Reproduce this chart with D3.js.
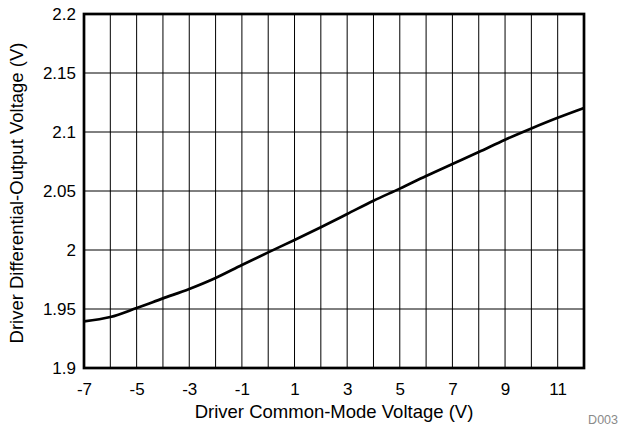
<!DOCTYPE html>
<html>
<head>
<meta charset="utf-8">
<script src="https://cdn.jsdelivr.net/npm/d3@7"></script>
<style>
  body { margin: 0; background: #fff; }
  text { font-family: "Liberation Sans", Arial, sans-serif; fill: #000; }
</style>
</head>
<body>
<div id="chart"></div>
<script>
// values
var vcm = [-7, -6, -5, -4, -3, -2, -1, 0, 1, 2, 3, 4, 5, 6, 7, 8, 9, 10, 11, 12];
var vod = [1.9395, 1.9432, 1.9508, 1.959, 1.967, 1.9763, 1.9873, 1.998, 2.0085, 2.0193,
           2.0305, 2.0418, 2.052, 2.0627, 2.0729, 2.083, 2.0935, 2.103, 2.112, 2.1203];
var xTicks = [-7, -5, -3, -1, 1, 3, 5, 7, 9, 11];
var yTicks = [1.9, 1.95, 2, 2.05, 2.1, 2.15, 2.2];

var W = 619, H = 430;
var m = {left: 84, right: 35, top: 14, bottom: 62};

var svg = d3.select('#chart')
  .append('svg')
  .attr('width', W)
  .attr('height', H);

var x = d3.scaleLinear().domain([-7, 12]).range([m.left, W - m.right]);
var y = d3.scaleLinear().domain([1.9, 2.2]).range([H - m.bottom, m.top]);

// vertical grid every 1 V
svg.append('g')
  .selectAll('line')
  .data(d3.range(-6, 12))
  .enter()
  .append('line')
  .attr('x1', function(d){ return x(d); })
  .attr('x2', function(d){ return x(d); })
  .attr('y1', y(1.9))
  .attr('y2', y(2.2))
  .attr('stroke', '#000')
  .attr('stroke-width', 1);

// horizontal grid
svg.append('g')
  .selectAll('line')
  .data(yTicks.slice(1, -1))
  .enter()
  .append('line')
  .attr('x1', x(-7))
  .attr('x2', x(12))
  .attr('y1', function(d){ return y(d); })
  .attr('y2', function(d){ return y(d); })
  .attr('stroke', '#000')
  .attr('stroke-width', 1);

// axes (labels only), plain hyphen for negatives
var xAxis = svg.append('g')
  .attr('transform', 'translate(0,' + (H - m.bottom) + ')')
  .call(d3.axisBottom(x).tickValues(xTicks).tickSize(0).tickPadding(15).tickFormat(function(d){ return String(d); }));
var yAxis = svg.append('g')
  .attr('transform', 'translate(' + m.left + ',0)')
  .call(d3.axisLeft(y).tickValues(yTicks).tickSize(0).tickPadding(8).tickFormat(function(d){ return String(d); }));
[xAxis, yAxis].forEach(function(a){
  a.select('.domain').remove();
  a.selectAll('text').attr('font-size', '17px').attr('font-family', '"Liberation Sans", Arial, sans-serif').attr('fill', '#000');
});

// curve
var pts = vcm.map(function(v, i){ return [v, vod[i]]; });
svg.append('path')
  .datum(pts)
  .attr('fill', 'none')
  .attr('stroke', '#000')
  .attr('stroke-width', 2.7)
  .attr('stroke-linejoin', 'round')
  .attr('d', d3.line()
    .x(function(d){ return x(d[0]); })
    .y(function(d){ return y(d[1]); })
    .curve(d3.curveMonotoneX));

// frame
svg.append('rect')
  .attr('x', x(-7))
  .attr('y', y(2.2))
  .attr('width', x(12) - x(-7))
  .attr('height', y(1.9) - y(2.2))
  .attr('fill', 'none')
  .attr('stroke', '#000')
  .attr('stroke-width', 2.7);

// titles
svg.append('text')
  .text('Driver Common-Mode Voltage (V)')
  .attr('x', 334)
  .attr('y', 418)
  .attr('text-anchor', 'middle')
  .attr('font-size', '18.5px');

svg.append('text')
  .text('Driver Differential-Output Voltage (V)')
  .attr('transform', 'translate(23,193) rotate(-90)')
  .attr('text-anchor', 'middle')
  .attr('font-size', '18.5px');

svg.append('text')
  .text('D003')
  .attr('x', 618)
  .attr('y', 424)
  .attr('text-anchor', 'end')
  .attr('font-size', '12.5px')
  .style('fill', '#8a8a8a');
</script>
</body>
</html>
